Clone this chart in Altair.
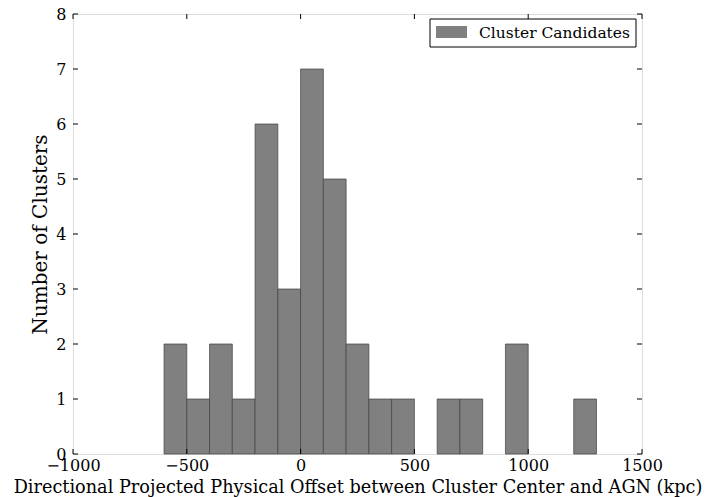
import altair as alt
import pandas as pd

# Histogram bins (kpc) and counts
bin_start = [-600, -500, -400, -300, -200, -100, 0, 100, 200, 300, 400, 600, 700, 900, 1200]
bin_end = [-500, -400, -300, -200, -100, 0, 100, 200, 300, 400, 500, 700, 800, 1000, 1300]
counts = [2, 1, 2, 1, 6, 3, 7, 5, 2, 1, 1, 1, 1, 2, 1]
series_label = ["Cluster Candidates"] * len(counts)

x_ticks = [-1000, -500, 0, 500, 1000, 1500]
y_ticks = [0, 1, 2, 3, 4, 5, 6, 7, 8]

W, H = 569, 440
FONT = "DejaVu Serif"
BAR = "#808080"

df = pd.DataFrame({"start": bin_start, "end": bin_end, "count": counts, "label": series_label})
xt = pd.DataFrame({"v": x_ticks})
yt = pd.DataFrame({"v": y_ticks})
leg = pd.DataFrame({"label": [series_label[0]]})

xscale = alt.Scale(domain=[-1000, 1500], nice=False, zero=False)
yscale = alt.Scale(domain=[0, 8], nice=False)

bars = alt.Chart(df).mark_rect(
    stroke="#404040", strokeWidth=0.7, color=BAR
).encode(
    x=alt.X("start:Q", scale=xscale,
            axis=alt.Axis(values=x_ticks, format="d", ticks=False, grid=False, domain=False,
                          labelFont=FONT, labelFontSize=16, labelColor="black",
                          labelPadding=3, labelFlush=False, labelOverlap=False,
                          title="Directional Projected Physical Offset between Cluster Center and AGN (kpc)",
                          titleFont=FONT, titleFontSize=17.7, titleFontWeight="normal",
                          titleColor="black", titlePadding=5)),
    x2="end:Q",
    y=alt.Y("count:Q", scale=yscale,
            axis=alt.Axis(values=y_ticks, format="d", ticks=False, grid=False, domain=False,
                          labelFont=FONT, labelFontSize=16, labelColor="black",
                          labelPadding=7, labelFlush=False, labelOverlap=False,
                          title="Number of Clusters",
                          titleFont=FONT, titleFontSize=20, titleFontWeight="normal",
                          titleColor="black", titlePadding=5)),
    y2=alt.datum(0),
)

tick_len = 5
tick_color = "black"

x_bottom = alt.Chart(xt).mark_rule(color=tick_color, strokeWidth=1).encode(
    x=alt.X("v:Q", scale=xscale), y=alt.value(H - tick_len), y2=alt.value(H))
x_top = alt.Chart(xt).mark_rule(color=tick_color, strokeWidth=1).encode(
    x=alt.X("v:Q", scale=xscale), y=alt.value(0), y2=alt.value(tick_len))
y_left = alt.Chart(yt).mark_rule(color=tick_color, strokeWidth=1).encode(
    y=alt.Y("v:Q", scale=yscale), x=alt.value(0), x2=alt.value(tick_len))
y_right = alt.Chart(yt).mark_rule(color=tick_color, strokeWidth=1).encode(
    y=alt.Y("v:Q", scale=yscale), x=alt.value(W - tick_len), x2=alt.value(W))

# Legend (upper right, boxed)
leg_box = alt.Chart(leg).mark_rect(fill="white", stroke="black", strokeWidth=1).encode(
    x=alt.value(357), x2=alt.value(563), y=alt.value(5), y2=alt.value(33))
leg_swatch = alt.Chart(leg).mark_rect(fill=BAR).encode(
    x=alt.value(363), x2=alt.value(394), y=alt.value(12), y2=alt.value(24))
leg_text = alt.Chart(leg).mark_text(
    font=FONT, fontSize=15.5, color="black", align="left", baseline="middle"
).encode(x=alt.value(406), y=alt.value(19), text="label:N")

chart = alt.layer(bars, x_bottom, x_top, y_left, y_right, leg_box, leg_swatch, leg_text).properties(
    width=W, height=H,
    padding={"left": 65, "top": 6, "right": 72, "bottom": 45},
    autosize=alt.AutoSizeParams(type="none"),
).configure_view(
    stroke="black", strokeWidth=1.2
).configure(background="white")

chart.save("out.html", embed_options={"renderer": "svg", "actions": False})
